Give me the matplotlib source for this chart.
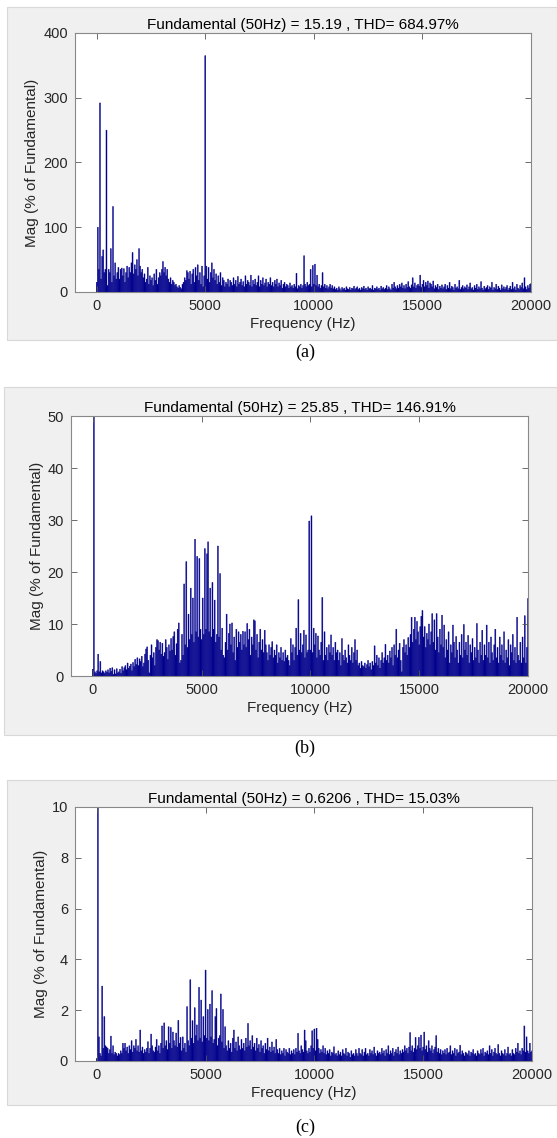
import numpy as np
import matplotlib
matplotlib.use("Agg")
import matplotlib.pyplot as plt
from matplotlib.patches import Rectangle

# Harmonic spectrum bins: 0 .. 20000 Hz in 50 Hz steps (rows of 1000 Hz)
freq_hz = np.arange(0, 20001, 50)

mag_a = [
    15, 100, 35, 292, 20, 55, 65, 30, 35, 250, 10, 35, 30, 67, 15, 132, 25, 45, 20, 30,
    38, 20, 35, 37, 25, 36, 15, 30, 40, 22, 38, 30, 45, 61, 28, 42, 35, 50, 25, 67,
    40, 30, 35, 22, 28, 15, 20, 38, 12, 25, 18, 22, 10, 28, 18, 35, 12, 22, 30, 25,
    35, 47, 30, 38, 25, 35, 20, 15, 22, 12, 18, 15, 10, 12, 8, 6, 10, 7, 5, 12,
    15, 22, 18, 33, 30, 20, 32, 12, 28, 35, 15, 38, 25, 42, 18, 30, 12, 40, 8, 25,
    365, 40, 20, 38, 15, 30, 45, 22, 35, 18, 28, 12, 25, 15, 30, 10, 22, 18, 8, 15,
    12, 20, 8, 18, 15, 10, 22, 12, 18, 8, 24, 12, 15, 20, 10, 16, 8, 25, 12, 18,
    15, 10, 26, 8, 18, 12, 20, 10, 15, 25, 8, 18, 12, 22, 10, 14, 20, 8, 15, 12,
    22, 10, 15, 8, 18, 12, 20, 8, 14, 10, 18, 6, 12, 15, 8, 12, 10, 6, 14, 8,
    10, 6, 12, 8, 29, 5, 10, 8, 12, 6, 10, 56, 12, 8, 15, 10, 12, 35, 8, 41,
    12, 43, 10, 26, 8, 12, 6, 10, 30, 8, 12, 6, 10, 5, 8, 12, 6, 10, 5, 8,
    4, 6, 3, 8, 5, 2, 7, 4, 6, 3, 8, 5, 4, 7, 3, 6, 5, 9, 4, 6,
    8, 4, 6, 3, 7, 5, 9, 4, 6, 3, 8, 5, 6, 4, 10, 3, 6, 5, 8, 4,
    6, 3, 9, 5, 7, 4, 6, 10, 4, 8, 5, 3, 12, 6, 15, 8, 5, 10, 6, 12,
    8, 14, 6, 10, 5, 12, 7, 16, 8, 6, 11, 22, 8, 14, 6, 10, 12, 9, 26, 7,
    12, 18, 8, 15, 10, 17, 6, 14, 12, 8, 17, 5, 10, 7, 12, 4, 9, 6, 11, 5,
    8, 12, 4, 10, 6, 15, 5, 9, 7, 3, 12, 6, 8, 5, 18, 4, 7, 10, 5, 8,
    6, 11, 4, 8, 14, 5, 7, 3, 10, 6, 12, 4, 8, 5, 16, 6, 3, 9, 5, 7,
    10, 4, 8, 6, 15, 3, 7, 5, 12, 4, 9, 6, 3, 11, 5, 8, 4, 7, 10, 3,
    6, 9, 4, 15, 5, 8, 3, 12, 6, 4, 10, 7, 14, 5, 22, 8, 4, 10, 6, 12,
    13,
]

mag_b = [
    1.3, 100, 0.8, 0.5, 1.0, 4.2, 0.8, 2.8, 0.6, 1.0, 0.8, 0.5, 1.0, 0.7, 1.2, 0.6, 1.5, 0.9, 1.6, 0.3,
    1.2, 0.4, 1.4, 0.6, 0.8, 1.3, 0.5, 1.8, 1.0, 1.6, 2.0, 1.2, 2.5, 1.5, 1.9, 2.3, 1.0, 2.6, 1.8, 3.2,
    2.2, 3.5, 2.0, 3.3, 2.8, 3.8, 1.8, 2.5, 4.2, 5.2, 5.6, 3.0, 0.6, 4.0, 6.0, 3.5, 4.5, 2.0, 5.5, 7.0,
    6.8, 5.0, 6.5, 4.2, 6.3, 3.8, 4.5, 7.0, 5.5, 3.2, 6.0, 4.8, 7.2, 5.0, 7.6, 8.5, 4.0, 6.2, 9.0, 10.2,
    2.5, 3.0, 8.0, 4.0, 17.7, 6.0, 22.0, 5.5, 11.9, 7.0, 16.9, 8.0, 15.0, 6.5, 26.3, 8.5, 23.0, 7.5, 22.6, 9.0,
    7.0, 15.0, 8.0, 24.5, 9.0, 23.5, 25.8, 8.5, 16.9, 7.5, 18.0, 9.0, 14.6, 6.5, 8.0, 25.0, 7.5, 19.7, 5.0, 9.2,
    4.0, 3.5, 6.5, 11.9, 5.0, 8.2, 10.0, 6.0, 10.2, 4.5, 7.5, 3.0, 9.0, 5.5, 8.5, 6.5, 8.0, 5.0, 8.6, 6.0,
    8.5, 5.5, 10.1, 7.0, 9.0, 4.0, 7.5, 6.0, 10.8, 10.6, 5.0, 8.0, 3.5, 6.5, 9.0, 5.0, 7.0, 4.5, 8.8, 6.0,
    4.5, 3.0, 6.0, 4.0, 5.5, 6.6, 3.5, 5.0, 4.0, 6.0, 2.5, 4.5, 3.5, 5.5, 3.0, 4.5, 2.8, 5.0, 3.5, 4.0,
    3.0, 2.0, 7.2, 4.5, 6.0, 3.0, 5.5, 9.2, 4.0, 14.7, 5.0, 8.2, 4.5, 6.0, 8.8, 3.5, 7.9, 4.5, 5.0, 29.8,
    5.0, 30.8, 4.5, 9.2, 6.0, 8.2, 3.5, 7.7, 5.0, 4.0, 6.5, 15.1, 3.0, 8.5, 4.0, 5.5, 3.0, 6.0, 4.5, 7.9,
    4.0, 5.5, 3.0, 6.5, 4.5, 5.0, 3.0, 4.5, 2.0, 7.2, 4.0, 3.0, 5.0, 3.5, 2.5, 6.0, 4.0, 3.0, 5.5, 2.5,
    4.5, 7.0, 3.0, 5.0, 2.0, 2.5, 1.5, 2.8, 2.0, 1.8, 2.5, 1.5, 2.2, 3.0, 1.8, 2.5, 1.2, 2.8, 2.0, 5.8,
    2.5, 4.0, 2.0, 3.5, 1.5, 3.0, 4.5, 2.5, 3.5, 6.1, 3.0, 4.0, 2.5, 4.8, 3.5, 5.5, 2.0, 6.0, 4.0, 9.0,
    3.5, 5.0, 6.3, 3.0, 0.8, 5.5, 7.0, 4.5, 6.0, 4.0, 7.4, 5.5, 8.0, 11.3, 6.5, 9.0, 11.3, 7.0, 10.5, 8.5,
    6.0, 9.5, 11.5, 12.6, 7.5, 9.5, 5.5, 8.2, 7.0, 10.0, 6.0, 8.5, 12.0, 6.5, 10.8, 5.0, 12.0, 7.5, 4.5, 9.0,
    6.0, 11.7, 5.5, 9.8, 3.5, 7.0, 5.0, 8.5, 2.5, 6.0, 4.5, 9.8, 6.5, 3.5, 7.6, 5.0, 2.5, 6.5, 4.0, 8.0,
    3.5, 9.9, 5.0, 6.5, 4.0, 7.8, 2.5, 6.0, 4.5, 7.2, 3.0, 5.5, 3.5, 10.1, 5.0, 2.5, 6.5, 4.0, 8.8, 3.0,
    6.0, 4.0, 9.8, 3.5, 6.5, 2.5, 7.5, 4.5, 3.0, 6.0, 9.0, 3.5, 5.5, 2.5, 7.5, 4.0, 6.0, 3.0, 8.5, 2.5,
    5.0, 3.5, 7.0, 2.0, 6.0, 4.5, 8.0, 3.0, 5.5, 2.5, 11.3, 4.0, 3.0, 6.5, 2.5, 7.5, 3.5, 11.6, 2.5, 5.5,
    14.9,
]

mag_c = [
    0.1, 100, 0.95, 0.3, 0.2, 2.95, 0.5, 1.75, 0.6, 0.55, 0.5, 0.3, 0.45, 0.98, 0.3, 0.6, 0.25, 0.35, 0.3, 0.2,
    0.3, 0.25, 0.4, 0.3, 0.7, 0.5, 0.7, 0.4, 0.55, 0.3, 0.6, 0.45, 0.8, 0.35, 0.6, 0.5, 0.85, 0.4, 0.6, 0.35,
    1.22, 0.4, 0.55, 0.3, 0.45, 0.35, 0.5, 0.76, 0.3, 0.5, 1.06, 0.6, 0.4, 0.35, 0.55, 0.85, 0.4, 0.6, 0.3, 0.7,
    1.38, 0.5, 1.5, 0.6, 0.8, 0.45, 1.35, 0.7, 1.32, 0.5, 1.14, 0.8, 0.6, 1.1, 0.55, 1.6, 0.7, 0.93, 0.4, 0.95,
    0.5, 0.7, 0.35, 2.14, 0.8, 0.6, 3.2, 0.9, 1.59, 0.7, 2.1, 1.0, 1.42, 0.8, 2.9, 0.9, 2.4, 0.75, 1.75, 1.0,
    3.58, 0.9, 2.03, 0.8, 2.24, 0.95, 2.77, 0.7, 0.85, 1.75, 2.07, 0.6, 0.9, 1.0, 2.64, 0.75, 2.03, 0.5, 1.35, 0.6,
    0.4, 0.8, 0.5, 0.7, 0.35, 0.9, 1.22, 0.5, 0.75, 0.4, 0.95, 0.6, 0.45, 0.85, 0.5, 0.7, 0.4, 0.9, 0.55, 1.48,
    0.6, 0.8, 0.45, 1.0, 0.55, 0.7, 0.4, 0.9, 0.5, 0.65, 0.35, 0.8, 0.5, 0.6, 0.3, 0.7, 0.45, 0.9, 0.4, 0.55,
    0.35, 0.75, 0.4, 0.55, 0.3, 0.85, 0.45, 0.3, 0.5, 0.25, 0.4, 0.3, 0.5, 0.2, 0.45, 0.35, 0.3, 0.5, 0.25, 0.4,
    0.3, 0.45, 0.25, 0.5, 0.35, 1.09, 0.4, 0.3, 0.6, 0.45, 0.35, 1.22, 0.8, 0.4, 0.3, 0.5, 0.35, 0.6, 1.19, 0.5,
    1.26, 0.4, 1.29, 0.85, 0.5, 0.3, 0.45, 0.35, 0.6, 0.3, 0.5, 0.25, 0.4, 0.3, 0.45, 0.2, 0.35, 0.3, 0.56, 0.25,
    0.3, 0.2, 0.4, 0.25, 0.35, 0.2, 0.45, 0.3, 0.25, 0.5, 0.2, 0.35, 0.3, 0.15, 0.4, 0.25, 0.3, 0.2, 0.45, 0.3,
    0.2, 0.5, 0.3, 0.25, 0.45, 0.2, 0.35, 0.5, 0.25, 0.3, 0.2, 0.45, 0.3, 0.4, 0.25, 0.55, 0.3, 0.2, 0.4, 0.3,
    0.35, 0.25, 0.5, 0.3, 0.4, 0.2, 0.45, 0.3, 0.6, 0.25, 0.4, 0.3, 0.5, 0.2, 0.35, 0.45, 0.3, 0.55, 0.25, 0.4,
    0.3, 0.45, 0.35, 0.6, 0.4, 0.5, 0.3, 0.55, 1.12, 0.4, 0.6, 0.35, 0.5, 0.93, 0.45, 0.6, 0.93, 0.5, 1.02, 0.4,
    0.55, 1.14, 0.45, 0.6, 0.35, 0.8, 0.5, 0.4, 0.6, 0.3, 0.45, 0.55, 1.0, 0.35, 0.5, 0.3, 0.45, 0.25, 0.4, 0.3,
    0.45, 0.25, 0.5, 0.3, 0.35, 0.6, 0.25, 0.4, 0.3, 0.5, 0.2, 0.45, 0.3, 0.35, 0.62, 0.25, 0.4, 0.3, 0.2, 0.35,
    0.3, 0.25, 0.4, 0.2, 0.35, 0.3, 0.45, 0.25, 0.3, 0.2, 0.4, 0.3, 0.25, 0.45, 0.3, 0.5, 0.2, 0.35, 0.3, 0.4,
    0.25, 0.6, 0.3, 0.45, 0.2, 0.35, 0.5, 0.3, 0.25, 0.65, 0.3, 0.2, 0.4, 0.3, 0.25, 0.45, 0.2, 0.3, 0.55, 0.25,
    0.3, 0.2, 0.45, 0.3, 0.25, 0.5, 0.35, 0.7, 0.3, 0.4, 0.25, 0.5, 0.4, 1.38, 0.35, 0.95, 0.4, 0.3, 0.7, 0.35,
    0.4,
]

titles = [
    "Fundamental (50Hz) = 15.19 , THD= 684.97%",
    "Fundamental (50Hz) = 25.85 , THD= 146.91%",
    "Fundamental (50Hz) = 0.6206 , THD= 15.03%",
]
captions = ["(a)", "(b)", "(c)"]
y_limits = [400, 50, 10]
y_ticks = [[0, 100, 200, 300, 400], [0, 10, 20, 30, 40, 50], [0, 2, 4, 6, 8, 10]]
x_ticks = [0, 5000, 10000, 15000, 20000]

W, H = 557, 1138
plt.rcParams["font.family"] = ["Liberation Sans", "DejaVu Sans"]
fig = plt.figure(figsize=(W / 100, H / 100), dpi=100)
fig.patch.set_facecolor("white")

# pixel boxes: (gray panel x0, y0, x1, y1), (axes x0, y0, x1, y1), caption y
panels = [
    ((7, 7, 557, 340), (75, 33, 531, 292), 352),
    ((4, 387, 557, 735), (71, 416, 528, 676), 748),
    ((7, 780, 557, 1105), (75, 807, 532, 1061), 1127),
]

def fx(px):
    return px / W

def fy(py):
    return 1 - py / H

bar_color = "#00008C"
text_color = "#262626"

for (bg, ax_box, cap_y), mags, ttl, cap, ylim, yt in zip(
        panels, [mag_a, mag_b, mag_c], titles, captions, y_limits, y_ticks):
    gx0, gy0, gx1, gy1 = bg
    fig.patches.append(Rectangle((fx(gx0), fy(gy1)), fx(gx1 - gx0), (gy1 - gy0) / H,
                                 transform=fig.transFigure, facecolor="#f0f0f0",
                                 edgecolor="#d8d8d8", linewidth=0.8, zorder=-5))
    x0, y0, x1, y1 = ax_box
    ax = fig.add_axes([fx(x0), fy(y1), fx(x1 - x0), (y1 - y0) / H], zorder=2)
    ax.set_facecolor("white")
    ax.bar(freq_hz, mags, width=46, color=bar_color, edgecolor=bar_color,
           linewidth=0.3, align="center", snap=False)
    ax.set_xlim(-1000, 20000)
    ax.set_ylim(0, ylim)
    ax.set_xticks(x_ticks)
    ax.set_yticks(yt)
    ax.tick_params(direction="in", length=4, width=0.6, colors="#555555",
                   labelcolor=text_color, labelsize=10.5, top=True, right=True, pad=5)
    for s in ax.spines.values():
        s.set_color("#888888")
        s.set_linewidth(0.8)
    ax.set_title(ttl, fontsize=11, color="black", pad=3)
    ax.set_xlabel("Frequency (Hz)", fontsize=11, color=text_color, labelpad=3)
    ax.set_ylabel("Mag (% of Fundamental)", fontsize=11, color=text_color, labelpad=3)
    fig.text(fx(305), fy(cap_y), cap, ha="center", va="center", fontsize=13,
             family=["Liberation Serif", "DejaVu Serif"], color="black")

fig.savefig("out.png", dpi=100, facecolor="white")
